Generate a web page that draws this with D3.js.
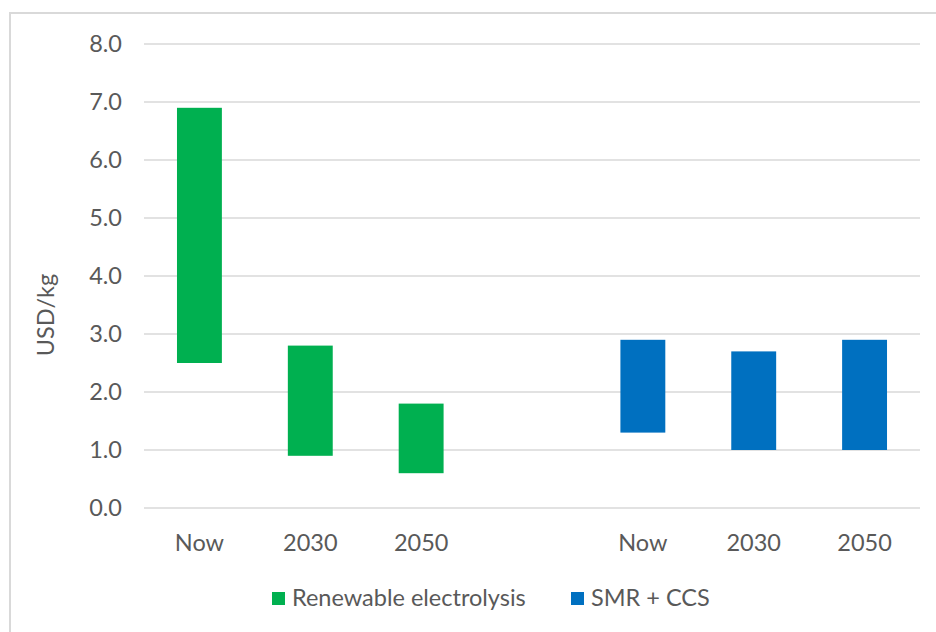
<!DOCTYPE html>
<html>
<head>
<meta charset="utf-8">
<script src="https://cdn.jsdelivr.net/npm/d3@7"></script>
<style>
  body { margin: 0; background: #fff; }
  svg text { font-family: Lato, "Open Sans", sans-serif; fill: #595959; }
</style>
</head>
<body>
<div id="chart"></div>
<script>
// Hydrogen production cost ranges (USD/kg)
const slots = ['g-now', 'g-2030', 'g-2050', 'gap', 'b-now', 'b-2030', 'b-2050'];
const slotLabels = ['Now', '2030', '2050', '', 'Now', '2030', '2050'];

const electrolysisLow = [2.5, 0.9, 0.6];
const electrolysisHigh = [6.9, 2.8, 1.8];
const smrLow = [1.3, 1.0, 1.0];
const smrHigh = [2.9, 2.7, 2.9];

const yTicks = [0, 1, 2, 3, 4, 5, 6, 7, 8];
const seriesNames = ['Renewable electrolysis', 'SMR + CCS'];
const seriesColors = ['#00B050', '#0070C0'];

const width = 936, height = 632;
const margin = { top: 44, right: 16, bottom: 124, left: 144 };
const fontSize = '23.5px';

const svg = d3.select('#chart')
    .append('svg')
    .attr('width', width)
    .attr('height', height);

// outer chart border (cut off on right/bottom)
svg.append('rect')
    .attr('x', 10)
    .attr('y', 13)
    .attr('width', 960)
    .attr('height', 660)
    .style('fill', 'none')
    .style('stroke', '#d9d9d9')
    .style('stroke-width', 2);

const x = d3.scaleBand()
    .domain(slots)
    .range([margin.left, width - margin.right])
    .paddingInner(0.595)
    .paddingOuter(0.2975);

const y = d3.scaleLinear()
    .domain([0, 8])
    .range([height - margin.bottom, margin.top]);

// gridlines
svg.append('g')
    .selectAll('line')
    .data(yTicks)
    .join('line')
    .attr('x1', margin.left)
    .attr('x2', width - margin.right)
    .attr('y1', d => y(d))
    .attr('y2', d => y(d))
    .style('stroke', '#d9d9d9')
    .style('stroke-width', 1.5);

// y tick labels
svg.append('g')
    .selectAll('text')
    .data(yTicks)
    .join('text')
    .attr('x', 122)
    .attr('y', d => y(d))
    .attr('dy', '0.35em')
    .attr('text-anchor', 'end')
    .style('font-size', fontSize)
    .text(d => d.toFixed(1));

// y axis title
svg.append('text')
    .attr('transform', 'translate(54, 315) rotate(-90)')
    .attr('text-anchor', 'middle')
    .style('font-size', fontSize)
    .text('USD/kg');

// bars
const bars = [];
electrolysisLow.forEach((lo, i) => bars.push({ slot: slots[i], lo, hi: electrolysisHigh[i], color: seriesColors[0] }));
smrLow.forEach((lo, i) => bars.push({ slot: slots[i + 4], lo, hi: smrHigh[i], color: seriesColors[1] }));

svg.append('g')
    .selectAll('rect')
    .data(bars)
    .join('rect')
    .attr('x', d => x(d.slot))
    .attr('width', x.bandwidth())
    .attr('y', d => y(d.hi))
    .attr('height', d => y(d.lo) - y(d.hi))
    .style('fill', d => d.color);

// category labels
svg.append('g')
    .selectAll('text')
    .data(slots.filter((s, i) => slotLabels[i] !== ''))
    .join('text')
    .attr('x', d => x(d) + x.bandwidth() / 2)
    .attr('y', 543)
    .attr('dy', '0.35em')
    .attr('text-anchor', 'middle')
    .style('font-size', fontSize)
    .text(d => slotLabels[slots.indexOf(d)]);

// legend
const legendX = [272, 571];
const legend = svg.append('g')
    .selectAll('g')
    .data(seriesNames)
    .join('g')
    .attr('transform', (d, i) => `translate(${legendX[i]}, 592)`);

legend.append('rect')
    .attr('width', 13)
    .attr('height', 13)
    .style('fill', (d, i) => seriesColors[i]);

legend.append('text')
    .attr('x', 20)
    .attr('y', 6)
    .attr('dy', '0.35em')
    .style('font-size', fontSize)
    .text(d => d);
</script>
</body>
</html>
